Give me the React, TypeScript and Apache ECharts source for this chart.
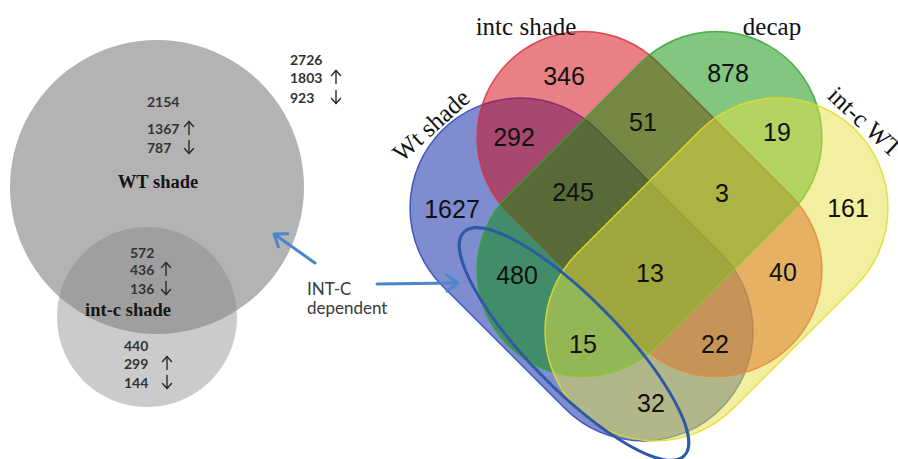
import React, { useEffect, useRef } from "react";
import * as echarts from "echarts";

// ---------------- DATA ----------------
// Four-set Venn (right panel)
const vennSetNames = ["Wt shade", "intc shade", "decap", "int-c WT"];
const vennRegionKeys = ["A", "B", "C", "D", "AB", "BC", "CD", "ABC", "BCD", "AC", "ABCD", "BD", "ACD", "ABD", "AD"];
const vennRegionCounts = [1627, 346, 878, 161, 292, 51, 19, 245, 3, 480, 13, 40, 15, 22, 32];

// Two-set Venn (left panel)
const pairSetNames = ["WT shade", "int-c shade"];
const pairGroupKeys = ["WT shade only", "WT shade ∩ int-c shade", "int-c shade only", "WT shade total"];
const pairTotals = [2154, 572, 440, 2726];
const pairUp = [1367, 436, 299, 1803];
const pairDown = [787, 136, 144, 923];

const calloutLines = ["INT-C", "dependent"];

// ---------------- LAYOUT (coordinates on hidden value axes) ----------------
const W = 898;
const H = 459;

// capsule: cap-centre 1 (x,y), cap-centre 2 (x,y), radius
const vennCapsules = [
  [520, 208, 643, 331, 110],
  [583, 137.5, 716, 270.5, 106],
  [716, 137.5, 583, 270.5, 106],
  [778, 208, 655, 331, 110],
];
const vennFill = ["rgba(0,25,161,0.5)", "rgba(209,1,13,0.5)", "rgba(5,141,1,0.5)", "rgba(229,225,65,0.5)"];
const vennStroke = ["rgba(50,75,185,0.9)", "rgba(220,50,60,0.85)", "rgba(50,165,50,0.85)", "rgba(225,220,40,0.9)"];
const vennSetLabelPos = [
  [431, 125, 42, "center"],
  [526, 26, 0, "center"],
  [772, 26, 0, "center"],
  [832, 91, -43, "left"],
];
const vennRegionPos = [
  [452, 209], [564, 76], [728, 73], [848, 208], [514, 137], [643, 122], [777, 132],
  [573, 192], [722, 193], [517, 275], [650, 273], [783, 272], [583, 344], [715, 344], [651, 403],
];

const pairCircles = [
  [157, 187, 147],
  [147, 317, 90],
];
const pairCircleFill = ["#b3b3b3", "rgba(130,130,130,0.42)"];
const pairSetLabelPos = [[158, 182], [128, 310]];
// per group: number column x, arrow x, y of total, y of up, y of down
const pairGroupPos = [
  [147, 189, 101, 128, 147],
  [130, 166, 252, 269, 288],
  [124, 167, 345, 363, 382],
  [290, 336, 59, 77, 97],
];

// centre x, centre y, rx, ry, clockwise tilt in degrees
const highlightEllipse = [[574, 344, 157, 45, 45.5]];
const calloutArrows = [
  [315, 263, 274, 234],
  [377, 284, 458, 283],
];
const calloutPos = [[307, 288], [307, 307]];

// ---------------- HELPERS ----------------
function textEl(api: any, x: number, y: number, text: string, style: any, rotDeg = 0) {
  const p = api.coord([x, y]);
  return {
    type: "text",
    x: p[0],
    y: p[1],
    rotation: (rotDeg * Math.PI) / 180,
    style: { text, align: "center", verticalAlign: "middle", fill: "#111", ...style },
  };
}

// small vertical arrow (dir = -1 up, +1 down) centred at data point
function smallArrow(api: any, x: number, y: number, dir: number) {
  const p = api.coord([x, y]);
  const half = 6.5;
  const tipY = p[1] + dir * half;
  const st = { stroke: "#2a2a2a", lineWidth: 1.4, fill: "none", lineCap: "round", lineJoin: "round" };
  return {
    type: "group",
    children: [
      { type: "line", shape: { x1: p[0], y1: p[1] - dir * half, x2: p[0], y2: tipY }, style: st },
      {
        type: "polyline",
        shape: {
          points: [
            [p[0] - 4.5, tipY - dir * 5],
            [p[0], tipY],
            [p[0] + 4.5, tipY - dir * 5],
          ],
        },
        style: st,
      },
    ],
  };
}

export default function App() {
  const ref = useRef<HTMLDivElement>(null);

  useEffect(() => {
    if (!ref.current) return;
    const chart = echarts.init(ref.current, undefined, { renderer: "svg" });

    const capsuleSeries = {
      type: "custom",
      coordinateSystem: "cartesian2d",
      silent: true,
      data: vennCapsules,
      renderItem: (params: any, api: any) => {
        const i = params.dataIndex;
        const p1 = api.coord([api.value(0), api.value(1)]);
        const p2 = api.coord([api.value(2), api.value(3)]);
        const r = api.size([api.value(4), 0])[0];
        const dx = p2[0] - p1[0];
        const dy = p2[1] - p1[1];
        const len = Math.hypot(dx, dy);
        const ang = Math.atan2(dy, dx);
        return {
          type: "rect",
          x: (p1[0] + p2[0]) / 2,
          y: (p1[1] + p2[1]) / 2,
          rotation: -ang,
          shape: { x: -len / 2 - r, y: -r, width: len + 2 * r, height: 2 * r, r },
          style: { fill: vennFill[i], stroke: vennStroke[i], lineWidth: 1.5 },
        };
      },
    };

    const circleSeries = {
      type: "custom",
      coordinateSystem: "cartesian2d",
      silent: true,
      data: pairCircles,
      renderItem: (params: any, api: any) => {
        const i = params.dataIndex;
        const c = api.coord([api.value(0), api.value(1)]);
        const r = api.size([api.value(2), 0])[0];
        return {
          type: "circle",
          shape: { cx: c[0], cy: c[1], r },
          style: { fill: pairCircleFill[i] },
        };
      },
    };

    const ellipseSeries = {
      type: "custom",
      coordinateSystem: "cartesian2d",
      silent: true,
      data: highlightEllipse,
      renderItem: (params: any, api: any) => {
        const c = api.coord([api.value(0), api.value(1)]);
        const rx = api.size([api.value(2), 0])[0];
        const ry = api.size([api.value(3), 0])[0];
        return {
          type: "ellipse",
          x: c[0],
          y: c[1],
          rotation: (-api.value(4) * Math.PI) / 180,
          shape: { cx: 0, cy: 0, rx, ry },
          style: { fill: "none", stroke: "#2f5aa3", lineWidth: 3 },
        };
      },
    };

    const arrowSeries = {
      type: "custom",
      coordinateSystem: "cartesian2d",
      silent: true,
      data: calloutArrows,
      renderItem: (params: any, api: any) => {
        const a = api.coord([api.value(0), api.value(1)]);
        const b = api.coord([api.value(2), api.value(3)]);
        const dx = b[0] - a[0];
        const dy = b[1] - a[1];
        const l = Math.hypot(dx, dy);
        const ux = dx / l;
        const uy = dy / l;
        const nx = -uy;
        const ny = ux;
        const hl = 11;
        const hw = 8;
        const st = { stroke: "#4a86c8", lineWidth: 3, fill: "none", lineCap: "round", lineJoin: "round" };
        return {
          type: "group",
          children: [
            { type: "line", shape: { x1: a[0], y1: a[1], x2: b[0] - ux, y2: b[1] - uy }, style: st },
            {
              type: "polyline",
              shape: {
                points: [
                  [b[0] - hl * ux + hw * nx, b[1] - hl * uy + hw * ny],
                  [b[0], b[1]],
                  [b[0] - hl * ux - hw * nx, b[1] - hl * uy - hw * ny],
                ],
              },
              style: st,
            },
          ],
        };
      },
    };

    const vennCountSeries = {
      type: "custom",
      coordinateSystem: "cartesian2d",
      silent: true,
      data: vennRegionPos,
      renderItem: (params: any, api: any) => {
        const i = params.dataIndex;
        return textEl(api, api.value(0), api.value(1), String(vennRegionCounts[i]), {
          fontFamily: "Liberation Sans",
          fontSize: 25,
          fill: "#111",
        });
      },
    };

    const vennNameSeries = {
      type: "custom",
      coordinateSystem: "cartesian2d",
      silent: true,
      data: vennSetLabelPos.map((p) => [p[0], p[1]]),
      renderItem: (params: any, api: any) => {
        const i = params.dataIndex;
        const el: any = textEl(
          api,
          api.value(0),
          api.value(1),
          vennSetNames[i],
          { fontFamily: "Liberation Serif", fontSize: 25, fill: "#111", align: vennSetLabelPos[i][3] },
          vennSetLabelPos[i][2] as number
        );
        return el;
      },
    };

    const pairNameSeries = {
      type: "custom",
      coordinateSystem: "cartesian2d",
      silent: true,
      data: pairSetLabelPos,
      renderItem: (params: any, api: any) => {
        const i = params.dataIndex;
        return textEl(api, api.value(0), api.value(1), pairSetNames[i], {
          fontFamily: "Liberation Serif",
          fontSize: 18.5,
          fontWeight: "bold",
          fill: "#151515",
        });
      },
    };

    const pairNumberSeries = {
      type: "custom",
      coordinateSystem: "cartesian2d",
      silent: true,
      data: pairGroupPos,
      renderItem: (params: any, api: any) => {
        const i = params.dataIndex;
        const nx = api.value(0);
        const ax = api.value(1);
        const numStyle = { fontFamily: "Lato", fontSize: 14, fontWeight: "bold", fill: "#333", align: "left" };
        return {
          type: "group",
          children: [
            textEl(api, nx, api.value(2), String(pairTotals[i]), numStyle),
            textEl(api, nx, api.value(3), String(pairUp[i]), numStyle),
            textEl(api, nx, api.value(4), String(pairDown[i]), numStyle),
            smallArrow(api, ax, api.value(3), -1),
            smallArrow(api, ax, api.value(4), 1),
          ],
        };
      },
    };

    const calloutSeries = {
      type: "custom",
      coordinateSystem: "cartesian2d",
      silent: true,
      data: calloutPos,
      renderItem: (params: any, api: any) => {
        const i = params.dataIndex;
        return textEl(api, api.value(0), api.value(1), calloutLines[i], {
          fontFamily: "Lato",
          fontSize: 17,
          fill: "#3a3a3a",
          align: "left",
        });
      },
    };

    chart.setOption({
      animation: false,
      backgroundColor: "#ffffff",
      grid: { left: 0, right: 0, top: 0, bottom: 0 },
      xAxis: { type: "value", min: 0, max: W, show: false },
      yAxis: { type: "value", min: 0, max: H, inverse: true, show: false },
      series: [
        circleSeries,
        capsuleSeries,
        ellipseSeries,
        arrowSeries,
        vennCountSeries,
        vennNameSeries,
        pairNameSeries,
        pairNumberSeries,
        calloutSeries,
      ],
    });

    return () => chart.dispose();
  }, []);

  return (
    <div
      ref={ref}
      style={{ position: "absolute", left: 0, top: 0, width: W, height: H, background: "#fff" }}
    />
  );
}
